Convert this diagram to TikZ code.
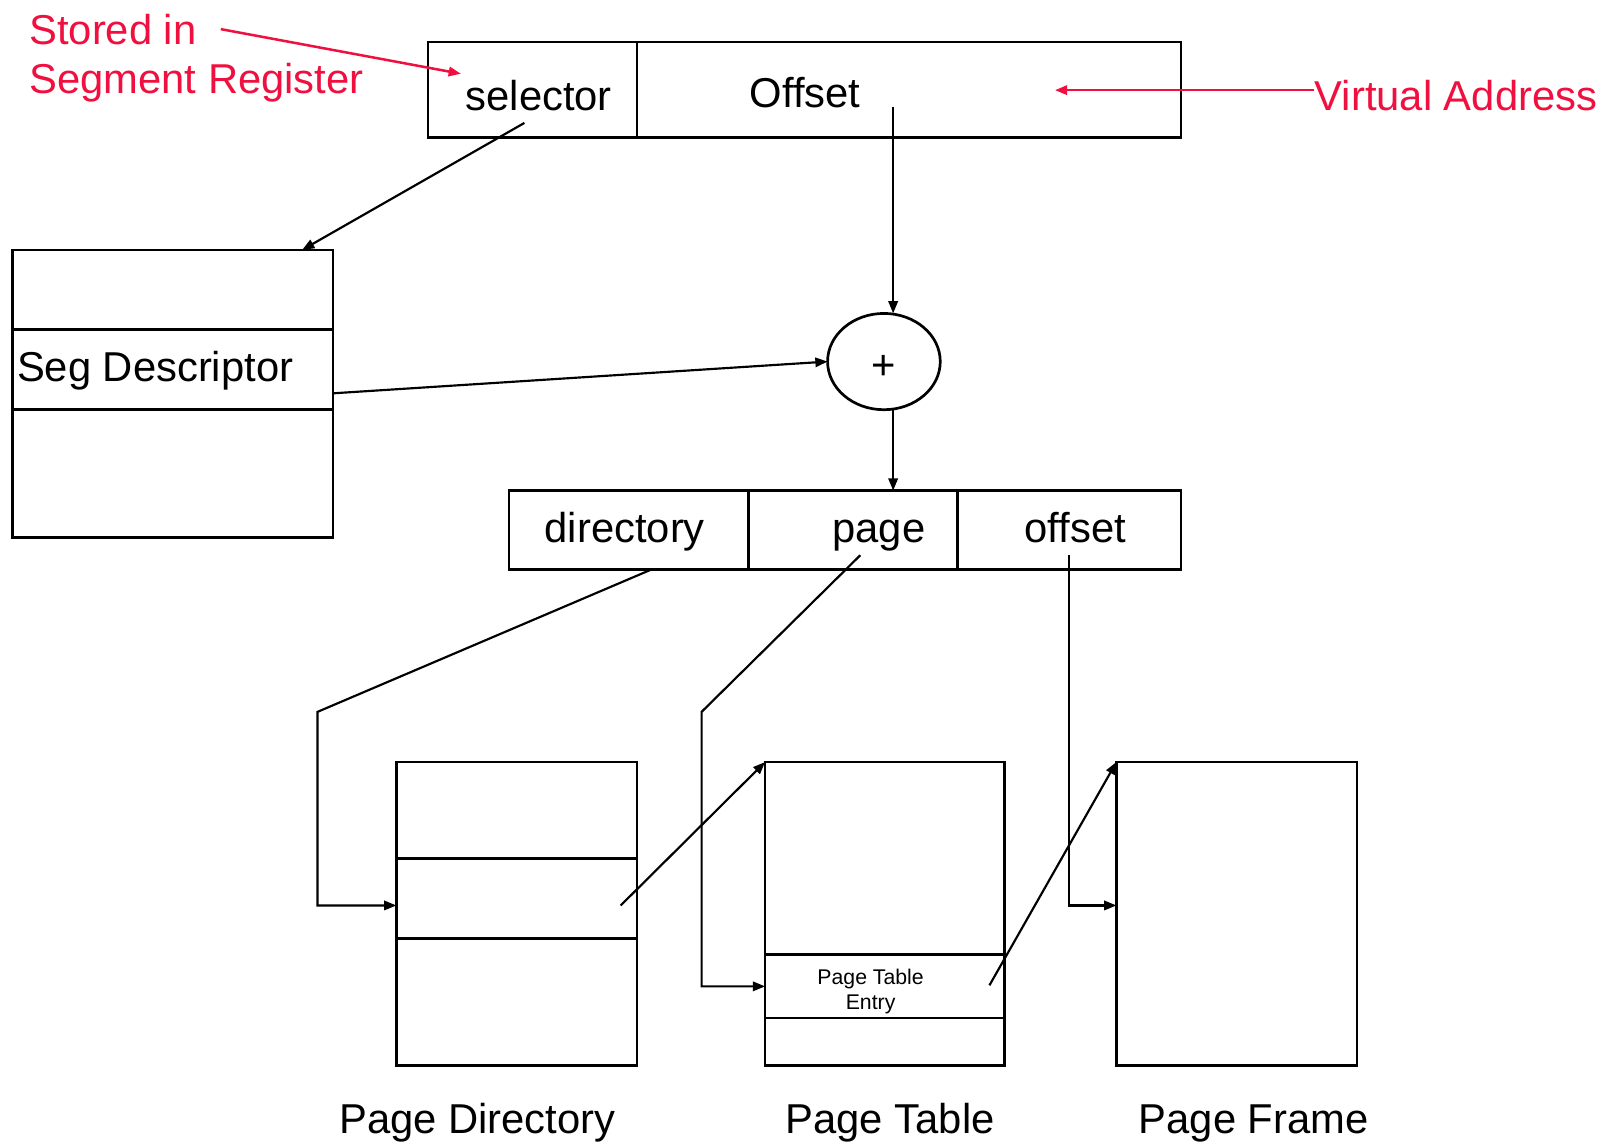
\documentclass[tikz,border=0pt]{standalone}
\usepackage{fontspec}
\setmainfont{Liberation Sans}
\usetikzlibrary{shapes.geometric,arrows.meta,calc}
\definecolor{regred}{RGB}{240,16,64}

\tikzset{
	cell/.style={draw, line width=0.75pt, inner sep=0pt, outer sep=0pt},
	adder/.style={draw, ellipse, line width=0.75pt, inner sep=0pt, outer sep=0pt,
		minimum width=1.10cm, minimum height=0.94cm},
	lbl/.style={inner sep=0pt, anchor=base, font=\fontsize{11.6}{14}\selectfont},
	redlbl/.style={lbl, anchor=base west, text=regred},
	link/.style={line width=0.6pt, -{Triangle[length=3.4pt,width=2.6pt]}},
	redlink/.style={link, draw=regred, line width=0.7pt}
}

\begin{document}
\begin{tikzpicture}
	\useasboundingbox (0,0) rectangle (15.68,-11.16);

	% virtual address
	\node[cell, minimum width=2.04cm, minimum height=0.93cm] (sel) at (5.20,-0.875) {};
	\node[cell, minimum width=5.31cm, minimum height=0.93cm] (off) at (8.875,-0.875) {};
	\node[lbl] (seltxt) at (5.26,-1.08) {selector};
	\node[lbl] (offtxt) at (7.86,-1.05) {Offset};

	% segment descriptor table
	\node[cell, minimum width=3.13cm, minimum height=0.78cm] (seg1) at (1.685,-2.83) {};
	\node[cell, minimum width=3.13cm, minimum height=0.78cm] (seg2) at (1.685,-3.61) {};
	\node[cell, minimum width=3.13cm, minimum height=1.25cm] (seg3) at (1.685,-4.625) {};
	\node[lbl, anchor=base west] (segtxt) at (0.16,-3.72) {Seg Descriptor};

	\node[adder] (add) at (8.63,-3.53) {};
	\node[inner sep=0pt, font=\fontsize{11.6}{14}\selectfont] (addtxt) at (8.63,-3.59) {+};

	% linear address
	\node[cell, minimum width=2.34cm, minimum height=0.77cm] (dir) at (6.14,-5.175) {};
	\node[cell, minimum width=2.04cm, minimum height=0.77cm] (pg) at (8.33,-5.175) {};
	\node[cell, minimum width=2.18cm, minimum height=0.77cm] (ofs) at (10.44,-5.175) {};
	\node[lbl] (dirtxt) at (6.10,-5.30) {directory};
	\node[lbl] (pgtxt) at (8.58,-5.30) {page};
	\node[lbl] (ofstxt) at (10.50,-5.30) {offset};

	% page directory
	\node[cell, minimum width=2.35cm, minimum height=0.94cm] (pd1) at (5.045,-7.91) {};
	\node[cell, minimum width=2.35cm, minimum height=0.78cm] (pd2) at (5.045,-8.77) {};
	\node[cell, minimum width=2.35cm, minimum height=1.24cm] (pd3) at (5.045,-9.78) {};

	% page table
	\node[cell, minimum width=2.34cm, minimum height=1.88cm] (pt1) at (8.64,-8.38) {};
	\node[cell, minimum width=2.34cm, minimum height=0.62cm] (pt2) at (8.64,-9.63) {};
	\node[cell, minimum width=2.34cm, minimum height=0.46cm] (pt3) at (8.64,-10.17) {};
	\node[inner sep=0pt, align=center, font=\fontsize{5.9}{7.1}\selectfont] (pttxt) at (8.50,-9.68) {Page Table\\Entry};

	% page frame
	\node[cell, minimum width=2.35cm, minimum height=2.96cm] (pf) at (12.075,-8.92) {};

	\node[lbl] (pdname) at (4.66,-11.07) {Page Directory};
	\node[lbl] (ptname) at (8.69,-11.07) {Page Table};
	\node[lbl] (pfname) at (12.24,-11.07) {Page Frame};

	% connectors
	\coordinate (offtap) at (8.72,-1.04);
	\draw[link] ($(sel.center)+(-0.08,-0.325)$) -- ($(seg1.north east)+(-0.30,0)$);
	\draw[link] (offtap) -- (offtap |- add.north);
	\draw[link] ($(seg2.east)+(0,-0.23)$) -- (add.west);
	\draw[link] (offtap |- add.south) -- (offtap |- pg.north);
	\draw[link] ($(dir.south)+(0.22,0)$) -- (3.10,-6.95) |- ($(pd2.west)+(0,-0.07)$);
	\draw[link] ($(pg.center)+(0.07,-0.245)$) -- (6.85,-6.95) |- (pt2.west);
	\draw[link] ($(ofs.center)+(0,-0.245)$) |- ($(pf.west)+(0,0.08)$);
	\draw[link] ($(pd2.center)+(1.015,-0.07)$) -- (pt1.north west);
	\draw[link] ($(pt2.center)+(1.02,0.01)$) -- (pf.north west);

	% red notes
	\node[redlbl] (stored) at (0.28,-0.43) {Stored in};
	\node[redlbl] (segreg) at (0.28,-0.91) {Segment Register};
	\coordinate (regtip) at (4.50,-0.72);
	\draw[redlink] ($(stored.east)+(0.23,0)$) -- (regtip);
	\node[redlbl] (vaddr) at (12.83,-1.08) {Virtual Address};
	\coordinate (vatip) at (10.30,-0.88);
	\draw[redlink] (vaddr.west |- vatip) -- (vatip);
\end{tikzpicture}
\end{document}
